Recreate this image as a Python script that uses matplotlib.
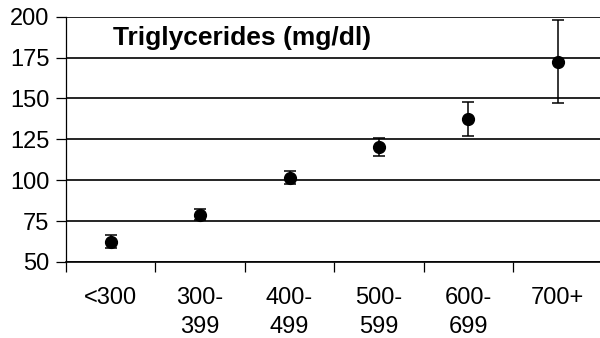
import numpy as np
import matplotlib
matplotlib.use("Agg")
import matplotlib.pyplot as plt

plt.rcParams['font.family'] = ['Liberation Sans', 'DejaVu Sans']

# mean triglyceride level per group, with error half-widths
groups = ['<300', '300-\n399', '400-\n499', '500-\n599', '600-\n699', '700+']
means = [62.5, 79, 101.5, 120.5, 137.5, 172.5]
errors = [4, 3.5, 4, 5.5, 10.5, 25.5]
y_ticks = [50, 75, 100, 125, 150, 175, 200]

fig = plt.figure(figsize=(6.0, 3.38), dpi=100)
ax = fig.add_axes([0.11, 0.225, 0.894, 0.7256])

x = np.arange(len(groups))
ax.errorbar(x, means, yerr=errors, fmt='o', color='black', ms=8.5,
            elinewidth=1.1, capsize=4.5, capthick=1.1, zorder=3)

ax.set_xlim(-0.5, len(groups) - 0.5)
ax.set_ylim(50, 200)
ax.set_yticks(y_ticks)
ax.yaxis.grid(True, color='black', linewidth=1.2)
ax.set_axisbelow(True)

# category labels between boundary ticks
ax.set_xticks(np.arange(len(groups) + 1) - 0.5)
ax.set_xticklabels([])
ax.set_xticks(x, minor=True)
ax.set_xticklabels(groups, minor=True, fontsize=17, linespacing=1.4)
ax.tick_params(axis='x', which='minor', length=0, pad=18)
ax.tick_params(axis='x', which='major', length=7, width=0.9, direction='out')
ax.tick_params(axis='y', length=7, width=0.9, labelsize=17, pad=5)

for side in ['top', 'right']:
    ax.spines[side].set_visible(False)
ax.spines['left'].set_linewidth(0.9)
ax.spines['bottom'].set_linewidth(1.2)

ax.text(0.088, 0.915, 'Triglycerides (mg/dl)', transform=ax.transAxes,
        fontsize=19, fontweight='bold', va='center', ha='left')

fig.savefig('out.png', dpi=100)
